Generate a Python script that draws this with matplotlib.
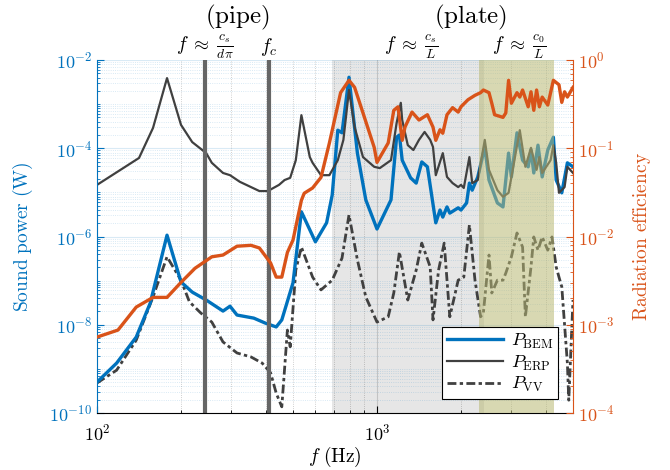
import numpy as np
import matplotlib
matplotlib.use("Agg")
import matplotlib.pyplot as plt
from matplotlib.ticker import FixedLocator, NullFormatter, LogFormatterSciNotation
import matplotlib.transforms as mtransforms

plt.rcParams['mathtext.fontset'] = 'cm'
plt.rcParams['font.family'] = 'serif'
plt.rcParams['font.serif'] = ['cmr10', 'DejaVu Serif']
plt.rcParams['axes.formatter.use_mathtext'] = True
plt.rcParams['axes.unicode_minus'] = False

# ---------------- data (log10 of frequency in Hz, log10 of values) ----------------
erp_logf = [2.00, 2.15, 2.20, 2.25, 2.30, 2.34, 2.39, 2.41, 2.45, 2.475, 2.51, 2.55, 2.58, 2.61, 2.65,
            2.67, 2.69, 2.71, 2.73, 2.76, 2.77, 2.80, 2.83, 2.86, 2.88, 2.90, 2.92, 2.95, 2.99, 3.01,
            3.05, 3.07, 3.085, 3.09, 3.11, 3.13, 3.15, 3.17, 3.19, 3.20, 3.21, 3.235, 3.25, 3.27, 3.29,
            3.30, 3.31, 3.33, 3.34, 3.36, 3.385, 3.40, 3.43, 3.45, 3.47, 3.51, 3.53, 3.55, 3.57, 3.58,
            3.59, 3.62, 3.63, 3.64, 3.65, 3.67, 3.68, 3.70]
erp_logP = [-4.83, -4.22, -3.54, -2.41, -3.47, -3.86, -4.11, -4.33, -4.56, -4.61, -4.76, -4.88, -4.97, -4.97, -4.83,
            -4.72, -4.67, -4.27, -3.25, -4.20, -4.33, -4.61, -4.61, -4.27, -3.81, -2.68, -3.52, -4.20, -4.42, -4.45,
            -4.27, -3.43, -2.97, -3.36, -3.93, -4.04, -3.81, -3.63, -3.81, -3.97, -4.61, -4.11, -4.65, -4.79, -4.88,
            -4.83, -4.90, -4.20, -4.79, -4.72, -3.81, -4.49, -4.95, -5.10, -5.01, -3.59, -4.42, -3.99, -4.49, -4.20,
            -4.56, -4.27, -3.93, -4.33, -5.01, -4.88, -4.42, -4.56]

bem_logf = [2.00, 2.07, 2.14, 2.19, 2.25, 2.30, 2.34, 2.39, 2.45, 2.475, 2.50, 2.56, 2.60, 2.64, 2.66,
            2.70, 2.73, 2.78, 2.82, 2.84, 2.86, 2.875, 2.90, 2.93, 2.96, 3.00, 3.05, 3.07, 3.08, 3.09,
            3.12, 3.14, 3.16, 3.18, 3.21, 3.225, 3.235, 3.25, 3.26, 3.29, 3.30, 3.32, 3.33, 3.34, 3.36,
            3.385, 3.40, 3.43, 3.45, 3.47, 3.48, 3.50, 3.52, 3.54, 3.55, 3.56, 3.575, 3.59, 3.61, 3.63,
            3.64, 3.66, 3.68, 3.70]
bem_logP = [-9.30, -8.87, -8.28, -7.51, -5.97, -7.03, -7.26, -7.44, -7.69, -7.58, -7.78, -7.85, -7.96, -8.05, -7.89,
            -7.05, -5.44, -6.12, -5.69, -5.06, -3.59, -3.65, -2.39, -4.11, -5.17, -5.83, -5.17, -3.75, -3.70, -4.27,
            -4.67, -4.79, -4.31, -4.42, -5.69, -5.40, -5.56, -5.33, -5.47, -5.35, -5.40, -5.24, -4.79, -4.95, -4.65,
            -3.97, -4.72, -5.24, -5.33, -4.11, -4.65, -3.65, -4.27, -4.42, -4.04, -4.56, -3.93, -4.65, -4.04, -3.75,
            -4.72, -5.01, -4.33, -4.42]

vv_logf = [2.00, 2.07, 2.14, 2.20, 2.25, 2.30, 2.33, 2.37, 2.41, 2.45, 2.50, 2.55, 2.59, 2.62, 2.64,
           2.66, 2.68, 2.69, 2.71, 2.73, 2.77, 2.80, 2.84, 2.875, 2.90, 2.93, 2.96, 3.00, 3.04, 3.06,
           3.08, 3.11, 3.14, 3.16, 3.19, 3.20, 3.22, 3.24, 3.26, 3.29, 3.31, 3.33, 3.35, 3.37, 3.38,
           3.40, 3.41, 3.43, 3.45, 3.46, 3.48, 3.50, 3.52, 3.53, 3.55, 3.56, 3.575, 3.59, 3.61, 3.625,
           3.64, 3.65, 3.66, 3.68, 3.685, 3.70]
vv_logP = [-9.32, -9.03, -8.35, -7.37, -6.46, -6.99, -7.48, -7.73, -7.94, -8.39, -8.64, -8.73, -8.87, -9.09, -9.55,
           -9.86, -8.12, -8.50, -6.76, -6.24, -6.92, -7.21, -6.99, -6.49, -5.51, -6.53, -7.37, -7.94, -7.82, -7.28,
           -6.35, -7.44, -6.76, -6.15, -6.69, -7.89, -6.76, -6.15, -7.82, -6.99, -6.92, -5.74, -6.99, -7.82, -7.73,
           -6.42, -7.28, -6.99, -6.99, -6.83, -6.46, -5.92, -6.24, -7.82, -6.69, -6.01, -6.31, -6.01, -6.31, -6.01,
           -6.69, -6.92, -7.14, -8.87, -9.71, -7.44]

sig_logf = [2.00, 2.075, 2.14, 2.20, 2.25, 2.30, 2.35, 2.41, 2.45, 2.50, 2.55, 2.58, 2.62, 2.64, 2.66,
            2.68, 2.70, 2.73, 2.74, 2.77, 2.80, 2.83, 2.87, 2.90, 2.92, 2.95, 2.99, 3.00, 3.04, 3.06,
            3.075, 3.09, 3.10, 3.125, 3.15, 3.18, 3.20, 3.21, 3.225, 3.235, 3.25, 3.27, 3.29, 3.30, 3.325,
            3.35, 3.37, 3.38, 3.40, 3.41, 3.42, 3.45, 3.46, 3.47, 3.48, 3.50, 3.51, 3.52, 3.54, 3.55,
            3.56, 3.57, 3.58, 3.59, 3.61, 3.63, 3.65, 3.66, 3.67, 3.68, 3.70]
sig_log = [-3.14, -3.06, -2.80, -2.69, -2.69, -2.52, -2.36, -2.23, -2.21, -2.11, -2.10, -2.13, -2.30, -2.46, -2.46,
           -2.18, -2.04, -1.59, -1.51, -1.45, -1.33, -0.94, -0.37, -0.23, -0.31, -0.60, -0.99, -1.16, -0.94, -0.57,
           -0.53, -0.91, -0.76, -0.59, -0.68, -0.62, -0.76, -0.91, -0.79, -0.83, -0.62, -0.54, -0.59, -0.53, -0.45,
           -0.40, -0.37, -0.34, -0.37, -0.49, -0.62, -0.65, -0.60, -0.23, -0.49, -0.37, -0.42, -0.34, -0.53, -0.36,
           -0.57, -0.34, -0.53, -0.42, -0.51, -0.23, -0.28, -0.48, -0.36, -0.42, -0.31]

f_pipe = 243.0      # f ~ c_s/(d pi)
f_coinc = 411.0     # f_c
band_plate_cs = (690.0, 2410.0)
band_plate_c0 = (2310.0, 4285.0)

legend_labels = [r'$P_\mathrm{BEM}$', r'$P_\mathrm{ERP}$', r'$P_\mathrm{VV}$']

# ---------------- styling ----------------
BLUE = '#0072BD'
ORANGE = '#D95319'
DARK = '#404040'

fig = plt.figure(figsize=(6.7, 4.7), dpi=100)
ax1 = fig.add_axes([0.1448, 0.1213, 0.7104, 0.751])
ax2 = ax1.twinx()

ax1.set_xscale('log')
ax1.set_yscale('log')
ax2.set_yscale('log')
ax1.set_xlim(100, 5012)
ax1.set_ylim(1e-10, 1e-2)
ax2.set_ylim(1e-4, 1)

ax1.set_axisbelow('line')
ax1.axvspan(*band_plate_cs, facecolor='#e6e6e6', edgecolor='none', zorder=0)
ax1.axvspan(*band_plate_c0, facecolor='#B8B874', alpha=0.55, edgecolor='none', zorder=3)

f = lambda a: 10 ** np.asarray(a)
l_bem, = ax1.plot(f(bem_logf), f(bem_logP), color=BLUE, lw=2.4, zorder=2.2, solid_joinstyle='round')
l_erp, = ax1.plot(f(erp_logf), f(erp_logP), color=DARK, lw=1.6, zorder=2.3, solid_joinstyle='round')
l_vv, = ax1.plot(f(vv_logf), f(vv_logP), color=DARK, lw=2.0, ls=(0, (3.2, 1.2, 1.2, 1.2)), zorder=2.1)
ax2.plot(f(sig_logf), f(sig_log), color=ORANGE, lw=2.4, solid_joinstyle='round')

for fv in (f_pipe, f_coinc):
    ax1.axvline(fv, color='#666666', lw=3, zorder=2.5)

# ticks
ax1.yaxis.set_major_locator(FixedLocator([1e-10, 1e-8, 1e-6, 1e-4, 1e-2]))
ax1.yaxis.set_major_formatter(LogFormatterSciNotation())
minors = [m * 10.0 ** e for e in range(-10, -2) for m in range(1, 10)] + [1e-2]
minors = [v for v in minors if v not in (1e-10, 1e-8, 1e-6, 1e-4, 1e-2)]
ax1.yaxis.set_minor_locator(FixedLocator(minors))
ax1.yaxis.set_minor_formatter(NullFormatter())
ax1.xaxis.set_major_locator(FixedLocator([100, 1000]))
ax1.xaxis.set_minor_locator(FixedLocator([m * 100 for m in range(2, 10)] + [m * 1000 for m in range(2, 6)]))
ax1.xaxis.set_minor_formatter(NullFormatter())
ax2.yaxis.set_major_locator(FixedLocator([1e-4, 1e-3, 1e-2, 1e-1, 1]))
ax2.yaxis.set_minor_locator(FixedLocator([m * 10.0 ** e for e in range(-4, 0) for m in range(2, 10)]))
ax2.yaxis.set_minor_formatter(NullFormatter())

ax1.tick_params(axis='y', which='both', colors=BLUE, direction='in', labelsize=13)
ax1.tick_params(axis='x', which='both', direction='in', labelsize=13, pad=7)
ax1.tick_params(which='major', length=5)
ax1.tick_params(which='minor', length=2.5)
ax2.tick_params(axis='y', which='both', colors=ORANGE, direction='in', labelsize=13)
ax2.tick_params(which='major', length=5)
ax2.tick_params(which='minor', length=2.5)

ax1.grid(True, which='major', axis='y', color=BLUE, alpha=0.15, lw=0.8)
ax1.grid(True, which='minor', axis='y', color=BLUE, alpha=0.2, lw=0.6, ls=':')
ax1.grid(True, which='major', axis='x', color='k', alpha=0.15, lw=0.8)
ax1.grid(True, which='minor', axis='x', color='k', alpha=0.25, lw=0.6, ls=':')

for sp in ('top', 'right'):
    ax1.spines[sp].set_visible(False)
for sp in ('top', 'left', 'bottom'):
    ax2.spines[sp].set_visible(False)
ax1.spines['left'].set_color(BLUE)
ax2.spines['right'].set_color(ORANGE)

ax1.set_ylabel(r'$\mathrm{Sound\ power\ (W)}$', color=BLUE, fontsize=14, labelpad=10)
ax2.set_ylabel(r'$\mathrm{Radiation\ efficiency}$', color=ORANGE, fontsize=14, labelpad=12)
ax1.set_xlabel(r'$f\ \mathrm{(Hz)}$', fontsize=14, labelpad=1)

tr = mtransforms.blended_transform_factory(ax1.transData, ax1.transAxes)
ax1.text(316, 1.12, r'$\mathrm{(pipe)}$', transform=tr, ha='center', va='center', fontsize=18)
ax1.text(2150, 1.12, r'$\mathrm{(plate)}$', transform=tr, ha='center', va='center', fontsize=18)
ax1.text(f_pipe, 1.037, r'$f\;\approx\;\frac{c_s}{d\pi}$', transform=tr, ha='center', va='center', fontsize=14)
ax1.text(f_coinc, 1.037, r'$f_c$', transform=tr, ha='center', va='center', fontsize=14)
ax1.text(1322, 1.037, r'$f\;\approx\;\frac{c_s}{L}$', transform=tr, ha='center', va='center', fontsize=14)
ax1.text(3214, 1.037, r'$f\;\approx\;\frac{c_0}{L}$', transform=tr, ha='center', va='center', fontsize=14)

leg = ax2.legend([l_bem, l_erp, l_vv], legend_labels, loc='lower right',
                 bbox_to_anchor=(0.968, 0.04), borderaxespad=0, fontsize=13,
                 fancybox=False, framealpha=1, edgecolor='black', handlelength=3.1,
                 labelspacing=0.15, borderpad=0.25, handletextpad=0.45)
leg.get_frame().set_linewidth(0.8)

fig.savefig('out.png', dpi=100)
